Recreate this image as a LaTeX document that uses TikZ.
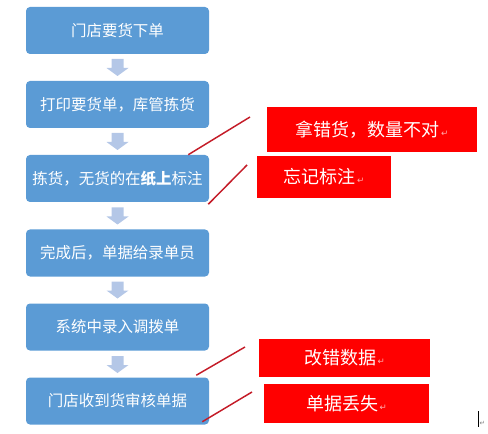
\documentclass[tikz,border=0pt]{standalone}
\usepackage{fontspec}
\usepackage{tikz}
\newfontfamily\cjk{Noto Sans CJK SC}
\newfontfamily\symfont{DejaVu Sans}
\definecolor{stepblue}{RGB}{91,155,213}
\definecolor{arrowblue}{RGB}{180,199,231}
\definecolor{issuered}{RGB}{255,0,0}
\definecolor{linkred}{RGB}{196,28,40}
\definecolor{retpink}{RGB}{255,175,175}
\newcommand{\retmark}{{\symfont\fontsize{6.5}{7}\selectfont\color{retpink}\,↵}}

\begin{document}
\begin{tikzpicture}[x=0.75pt,y=0.75pt,yscale=-1,xscale=1,
  stepbox/.style={fill=stepblue, rounded corners=3pt, inner sep=0pt,
    minimum width=137.25pt, minimum height=35.25pt, text=white,
    font=\cjk\fontsize{11.6}{13}\selectfont},
  issuebox/.style={fill=issuered, inner sep=0pt, text=white,
    font=\cjk\fontsize{13.5}{15}\selectfont},
  linkline/.style={draw=linkred, line width=1.1pt}]
\useasboundingbox (0,0) rectangle (488,434);

% Step Nodes
\node [stepbox] (order) at (117.5,30.5) {门店要货下单};
\node [stepbox] (pick) at (117.5,104.5) {打印要货单，库管拣货};
\node [stepbox] (mark) at (117.5,178.5) {拣货，无货的在{\bfseries 纸上}标注};
\node [stepbox] (hand) at (117.5,253) {完成后，单据给录单员};
\node [stepbox] (entry) at (117.5,327) {系统中录入调拨单};
\node [stepbox] (check) at (117.5,401) {门店收到货审核单据};

% Down Arrows
\foreach \y in {59,133,207.5,281.5,356}
  \fill [arrowblue] (111.5,\y) -- (123.5,\y) -- (123.5,\y+9) -- (128.5,\y+9)
    -- (117.5,\y+17) -- (106.5,\y+9) -- (111.5,\y+9) -- cycle;

% Issue Nodes
\node [issuebox, minimum width=157.5pt, minimum height=33.75pt] (wrong) at (372,129.5) {拿错货，数量不对\retmark};
\node [issuebox, minimum width=100.5pt, minimum height=31.5pt] (forgot) at (324,177) {忘记标注\retmark};
\node [issuebox, minimum width=128.25pt, minimum height=28.5pt] (edit) at (344.5,358) {改错数据\retmark};
\node [issuebox, minimum width=123.75pt, minimum height=29.25pt] (lost) at (346.5,403.5) {单据丢失\retmark};

% Link Lines
\coordinate (wrongend) at (250,117);
\coordinate (forgotend) at (247,165);
\coordinate (editend) at (245,347);
\coordinate (lostend) at (252,392);
\draw [linkline] ([xshift=-15.75pt]mark.north east) -- (wrongend);
\draw [linkline] ([xshift=-0.75pt,yshift=1.5pt]mark.south east) -- (forgotend);
\draw [linkline] ([xshift=-9.75pt,yshift=-1.5pt]check.north east) -- (editend);
\draw [linkline] ([xshift=-5.25pt,yshift=-2.25pt]check.south east) -- (lostend);

% Cursor
\draw [line width=0.5pt] (478,411) -- (478,427);
\node [inner sep=0pt, font=\symfont\fontsize{5}{5}\selectfont, text=gray] (cursor) at (482.5,423) {↵};
\end{tikzpicture}
\end{document}
